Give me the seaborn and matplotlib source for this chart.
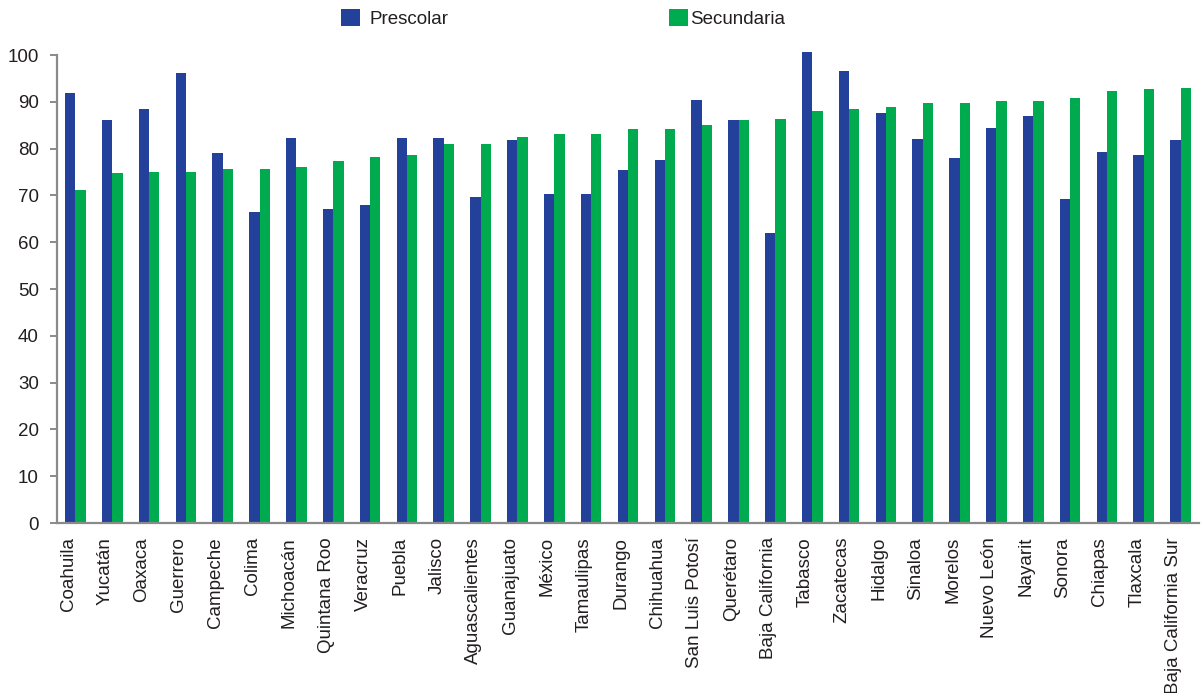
import numpy as np
import pandas as pd
import seaborn as sns
import matplotlib.pyplot as plt
from matplotlib.transforms import ScaledTranslation

# values
states = [
    "Coahuila", "Yucatán", "Oaxaca", "Guerrero", "Campeche", "Colima",
    "Michoacán", "Quintana Roo", "Veracruz", "Puebla", "Jalisco",
    "Aguascalientes", "Guanajuato", "México", "Tamaulipas", "Durango",
    "Chihuahua", "San Luis Potosí", "Querétaro", "Baja California",
    "Tabasco", "Zacatecas", "Hidalgo", "Sinaloa", "Morelos", "Nuevo León",
    "Nayarit", "Sonora", "Chiapas", "Tlaxcala", "Baja California Sur",
]
prescolar = [
    91.9, 86.1, 88.5, 96.2, 79.1, 66.5, 82.3, 67.1, 67.9, 82.3, 82.3,
    69.7, 81.8, 70.3, 70.3, 75.4, 77.6, 90.4, 86.1, 62.0, 100.6, 96.6,
    87.6, 82.1, 78.0, 84.4, 87.0, 69.2, 79.3, 78.6, 81.8,
]
secundaria = [
    71.2, 74.8, 75.0, 75.0, 75.6, 75.6, 76.1, 77.4, 78.2, 78.6, 81.0,
    81.0, 82.5, 83.1, 83.1, 84.2, 84.2, 85.0, 86.1, 86.3, 88.0, 88.5,
    88.9, 89.7, 89.7, 90.2, 90.2, 90.8, 92.3, 92.7, 92.9,
]
series = ["Prescolar", "Secundaria"]
colors = ["#23409A", "#00AA4E"]

df = pd.DataFrame({
    "estado": states * 2,
    "serie": [series[0]] * len(states) + [series[1]] * len(states),
    "valor": prescolar + secundaria,
})

sns.set_style("white")
plt.rcParams["font.family"] = ["Liberation Sans", "DejaVu Sans"]
TEXT = "#231F20"
GREY = "#8A8A8A"

fig = plt.figure(figsize=(12.02, 6.93), dpi=100)
ax = fig.add_axes([57 / 1202, 1 - 523 / 693, 1142 / 1202, 468 / 693])

sns.barplot(data=df, x="estado", y="valor", hue="serie", order=states,
            hue_order=series, palette=colors, width=0.56, saturation=1,
            linewidth=0, ax=ax)

for p in ax.patches:
    p.set_clip_on(False)

n = len(states)
ax.set_xlim(-0.5, n - 0.5)
ax.set_ylim(0, 100)
ax.set_yticks(np.arange(0, 101, 10))
ax.set_xticks(np.arange(-0.5, n, 1), minor=True)
ax.set_xlabel("")
ax.set_ylabel("")

sns.despine(ax=ax)
for side in ["left", "bottom"]:
    ax.spines[side].set_color(GREY)
    ax.spines[side].set_linewidth(1.6)

ax.tick_params(axis="y", which="major", direction="out", length=5,
               width=1.4, color=GREY, labelsize=13.5, labelcolor=TEXT, pad=8)
ax.tick_params(axis="x", which="major", length=0, labelsize=13.5,
               labelcolor=TEXT, pad=10)
ax.tick_params(axis="x", which="minor", direction="out", length=5,
               width=1.4, color=GREY)
ax.tick_params(left=True, bottom=True)

shift = ScaledTranslation(-0.07, 0, fig.dpi_scale_trans)
for lab in ax.get_xticklabels():
    lab.set_rotation(90)
    lab.set_ha("center")
    lab.set_va("top")
    lab.set_transform(lab.get_transform() + shift)

# two separate legend entries, as in the reference
handles, labels = ax.get_legend_handles_labels()
ax.legend_.remove()
legend_kw = dict(loc="upper left", frameon=False, fontsize=13.5,
                 handlelength=1.0, handleheight=1.0, borderpad=0,
                 borderaxespad=0, labelcolor=TEXT)
fig.legend(handles[:1], labels[:1], bbox_to_anchor=(341 / 1202, 1 - 9 / 693),
           handletextpad=0.5, **legend_kw)
fig.legend(handles[1:], labels[1:], bbox_to_anchor=(669 / 1202, 1 - 9 / 693),
           handletextpad=0.1, **legend_kw)

fig.savefig("out.png", dpi=100)
